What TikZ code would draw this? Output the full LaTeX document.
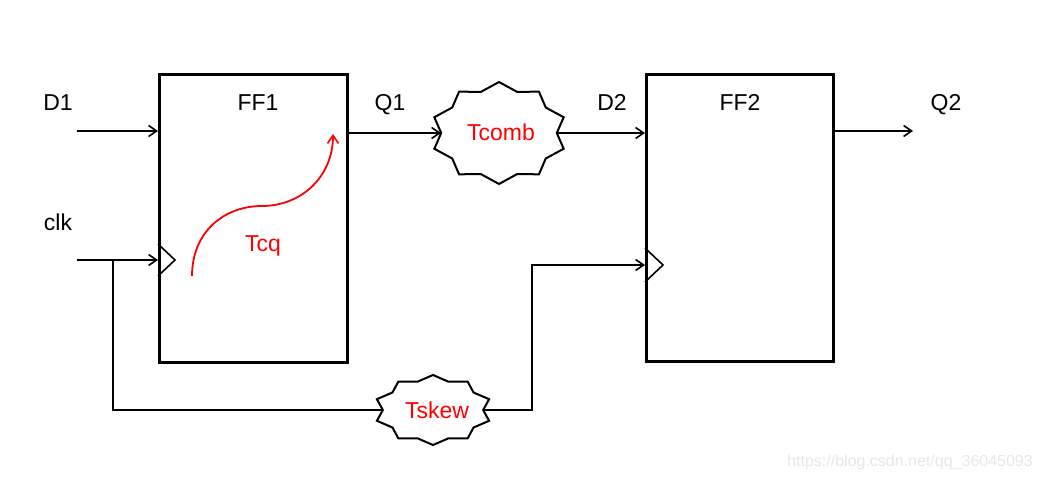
\documentclass[tikz,border=0pt]{standalone}
\usepackage{fontspec}
\setmainfont{Liberation Sans}
\usetikzlibrary{arrows.meta}
\tikzset{
  lbl/.style={font=\fontsize{23}{26}\selectfont, anchor=base, inner sep=0pt},
  redlbl/.style={lbl, text=red},
  ffbox/.style={draw, line width=2.6pt, fill=white},
  wire/.style={line width=1.8pt},
  arr/.style={wire, -{Straight Barb[length=8pt,width=11pt,line width=1.6pt]}},
  clkmark/.style={line width=1.6pt},
  cloud/.style={draw, line width=2pt, fill=white, line join=miter},
}
% star-cloud polygon: #1 center x, #2 center y, #3 A, #4 B
\newcommand{\wavyshape}[4]{%
  \draw[cloud] plot[samples at={0,...,19}, variable=\k]
    ({#1 + (mod(\k,2)==0 ? 1 : 0.85)*#3*cos(90+18*\k)},
     {#2 - (mod(\k,2)==0 ? 1 : 0.85)*#4*sin(90+18*\k)}) -- cycle;}
\begin{document}
\begin{tikzpicture}[x=1pt,y=-1pt]
\useasboundingbox (0,0) rectangle (1042,478);
\fill[white] (0,0) rectangle (1042,478);

% flip-flops
\node[ffbox, minimum width=188pt, minimum height=288pt, anchor=north west, inner sep=0pt] (ff1) at (158,73) {};
\node[ffbox, minimum width=187pt, minimum height=287pt, anchor=north west, inner sep=0pt] (ff2) at (645,73) {};

% clock triangles
\coordinate (ck1) at (158,260);
\coordinate (ck2) at (645,265);
\draw[clkmark] (158,244) -- (175,260) -- (158,276);
\draw[clkmark] (645,248) -- (663,265) -- (645,282);

% labels
\node[lbl] (d1) at (58,111) {D1};
\node[lbl] (clk) at (58,231) {clk};
\node[lbl] (ff1l) at (258,111) {FF1};
\node[lbl] (q1) at (390,111) {Q1};
\node[lbl] (d2) at (612,111) {D2};
\node[lbl] (ff2l) at (740,111) {FF2};
\node[lbl] (q2) at (946,111) {Q2};

% cloud shapes
\wavyshape{499}{133}{68}{51}
\node[redlbl] (tcomb) at (501,141) {Tcomb};
\coordinate (tcW) at (441,133);
\coordinate (tcE) at (557,133);

\wavyshape{433}{410}{59}{35}
\node[redlbl] (tskew) at (437,418) {Tskew};
\coordinate (tsW) at (383,410);
\coordinate (tsE) at (483,410);

% data wires
\coordinate (d1s) at (77,131);
\coordinate (q2e) at (913,131);
\draw[arr] (d1s) -- (d1s -| ff1.west);
\draw[arr] (ff1.east |- tcW) -- (tcW);
\draw[arr] (tcE) -- (tcE -| ff2.west);
\draw[arr] (ff2.east |- q2e) -- (q2e);

% clock wires
\coordinate (clks) at (77,260);
\coordinate (br) at (113,260);
\coordinate (br2) at (113,410);
\coordinate (up) at (532,410);
\coordinate (up2) at (532,265);
\draw[arr] (clks) -- (ck1);
\draw[wire] (br) -- (br2) -- (tsW);
\draw[arr] (tsE) -- (up) -- (up2) -- (ck2);

% Tcq curve
\coordinate (cqs) at (192,276);
\coordinate (cqm) at (262,206);
\coordinate (cqe) at (333,134);
\draw[red, line width=1.8pt, -{Straight Barb[length=8pt,width=11pt,line width=1.6pt]}]
  (cqs) .. controls (192,232) and (224,206) .. (cqm)
        .. controls (302,206) and (333,176) .. (cqe);
\node[redlbl] (tcq) at (263,252) {Tcq};

% watermark
\node[font=\fontsize{16}{18}\selectfont, text=black!9, anchor=base east, inner sep=0pt] (wm) at (1033,466) {https://blog.csdn.net/qq\_36045093};
\end{tikzpicture}
\end{document}
